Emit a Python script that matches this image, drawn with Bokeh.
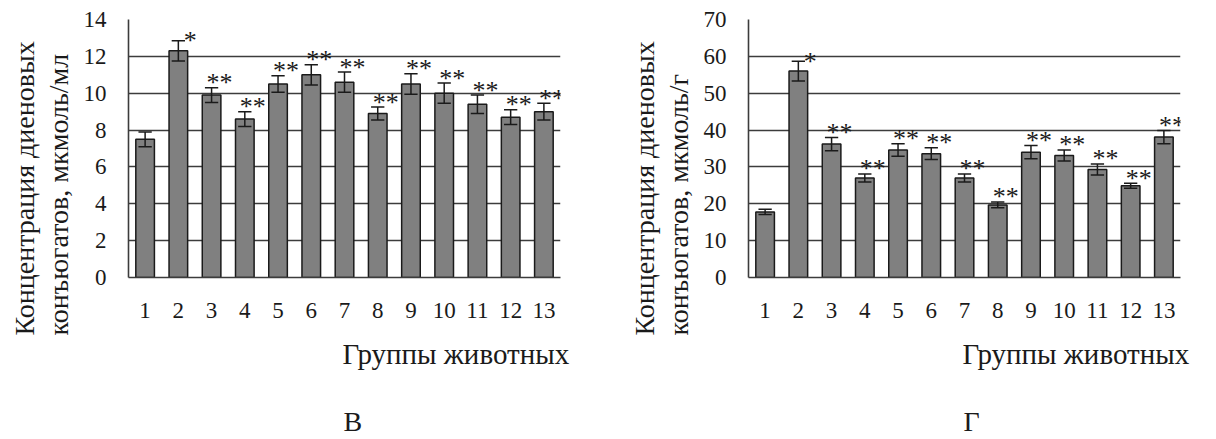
from bokeh.core.properties import value
from bokeh.embed import file_html
from bokeh.layouts import row
from bokeh.models import ColumnDataSource, FixedTicker, Range1d, Title
from bokeh.plotting import figure
from bokeh.resources import INLINE

# Animal groups on the x axis
groups = list(range(1, 14))
group_labels = [str(g) for g in groups]

# Panel "в": diene conjugates, мкмоль/мл
conc_ml = [7.5, 12.3, 9.9, 8.6, 10.5, 11.0, 10.6, 8.9, 10.5, 10.0, 9.4, 8.7, 9.0]
err_ml = [0.4, 0.55, 0.4, 0.4, 0.45, 0.55, 0.55, 0.35, 0.55, 0.55, 0.5, 0.4, 0.45]
marks_ml = ["", "*", "**", "**", "**", "**", "**", "**", "**", "**", "**", "**", "**"]
ticks_ml = [0, 2, 4, 6, 8, 10, 12, 14]

# Panel "г": diene conjugates, мкмоль/г
conc_g = [17.8, 56.0, 36.2, 27.0, 34.6, 33.6, 27.0, 19.7, 34.0, 33.1, 29.3, 24.9, 38.1]
err_g = [0.7, 2.7, 1.8, 1.1, 1.7, 1.6, 1.1, 0.8, 1.8, 1.5, 1.5, 0.7, 1.8]
marks_g = ["", "*", "**", "**", "**", "**", "**", "**", "**", "**", "**", "**", "**"]
ticks_g = [0, 10, 20, 30, 40, 50, 60, 70]

ytitle_1 = "Концентрация диеновых"
ytitle_ml = "конъюгатов, мкмоль/мл"
ytitle_g = "конъюгатов, мкмоль/г"
xtitle = "Группы животных"

SERIF = "Liberation Serif"
INK = "#1a1a1a"
RULE = "#3c3c3c"

# frame geometry inside each panel (pixels from the panel's top-left corner)
FRAME_LEFT, FRAME_TOP, FRAME_W, FRAME_H = 128, 19, 432, 258
PANEL_H = 439


def side_text(text, size, offset, standoff, line_height, valign):
    return Title(text=text, align="left", offset=offset, standoff=standoff,
                 vertical_align=valign, text_line_height=line_height,
                 text_font=SERIF, text_font_size=size, text_font_style="normal",
                 text_color=INK)


def panel(width, values, errors, marks, ymax, yticks, ytitle_2, caption):
    p = figure(
        width=width, height=PANEL_H,
        x_range=Range1d(0.5, 13.5), y_range=Range1d(0, ymax),
        output_backend="svg", toolbar_location=None,
        min_border_left=FRAME_LEFT, min_border_right=width - FRAME_LEFT - FRAME_W,
        min_border_top=FRAME_TOP, min_border_bottom=PANEL_H - FRAME_TOP - FRAME_H,
    )
    p.outline_line_color = None
    p.background_fill_color = "white"
    p.border_fill_color = "white"

    p.xgrid.grid_line_color = None
    p.ygrid.ticker = FixedTicker(ticks=yticks)
    p.ygrid.grid_line_color = RULE
    p.ygrid.grid_line_width = 1.6

    p.yaxis.ticker = FixedTicker(ticks=yticks)
    p.xaxis.ticker = FixedTicker(ticks=groups)
    p.xaxis.major_label_overrides = {g: lab for g, lab in zip(groups, group_labels)}
    for ax in (p.xaxis, p.yaxis):
        ax.axis_line_color = RULE
        ax.axis_line_width = 1.6
        ax.major_tick_in = 0
        ax.major_tick_out = 0
        ax.minor_tick_in = 0
        ax.minor_tick_out = 0
        ax.major_label_text_font = SERIF
        ax.major_label_text_font_size = "23px"
        ax.major_label_text_color = INK
    p.yaxis.major_label_standoff = 22
    p.xaxis.major_label_standoff = 25

    lo = [v - e for v, e in zip(values, errors)]
    hi = [v + e for v, e in zip(values, errors)]
    src = ColumnDataSource(dict(
        x=groups, top=values, lo=lo, hi=hi,
        cap0=[g - 0.2 for g in groups], cap1=[g + 0.2 for g in groups],
        mark=marks,
        dx=[12 if m == "*" else 8 for m in marks],
        dy=[0 if m == "*" else -5 for m in marks],
    ))

    p.vbar(x="x", top="top", width=0.56, source=src,
           fill_color="#808080", line_color=INK, line_width=1.5)
    p.segment(x0="x", y0="lo", x1="x", y1="hi", source=src, line_color=INK, line_width=1.5)
    p.segment(x0="cap0", y0="hi", x1="cap1", y1="hi", source=src, line_color=INK, line_width=1.5)
    p.segment(x0="cap0", y0="lo", x1="cap1", y1="lo", source=src, line_color=INK, line_width=1.5)

    p.text(x="x", y="hi", text="mark", x_offset="dx", y_offset="dy", source=src,
           text_align="center", text_baseline="middle",
           text_font=value(SERIF), text_font_size="26px", text_color=INK)

    # two-line vertical axis title, lines starting at the same height
    p.add_layout(side_text(ytitle_1 + "\n" + ytitle_2, "28px", -58, 10, 1.1, "top"), "left")

    # x axis title, then the panel caption at the bottom edge
    p.add_layout(side_text(xtitle, "29px", 214, 35, 1.0, "top"), "below")
    p.add_layout(side_text("\n" + caption, "28px", 215, 0, 0.495, "bottom"), "below")
    return p


left = panel(620, conc_ml, err_ml, marks_ml, 14, ticks_ml, ytitle_ml, "В")
right = panel(596, conc_g, err_g, marks_g, 70, ticks_g, ytitle_g, "Г")

layout = row(left, right)
open("out.html", "w").write(file_html(layout, INLINE))
